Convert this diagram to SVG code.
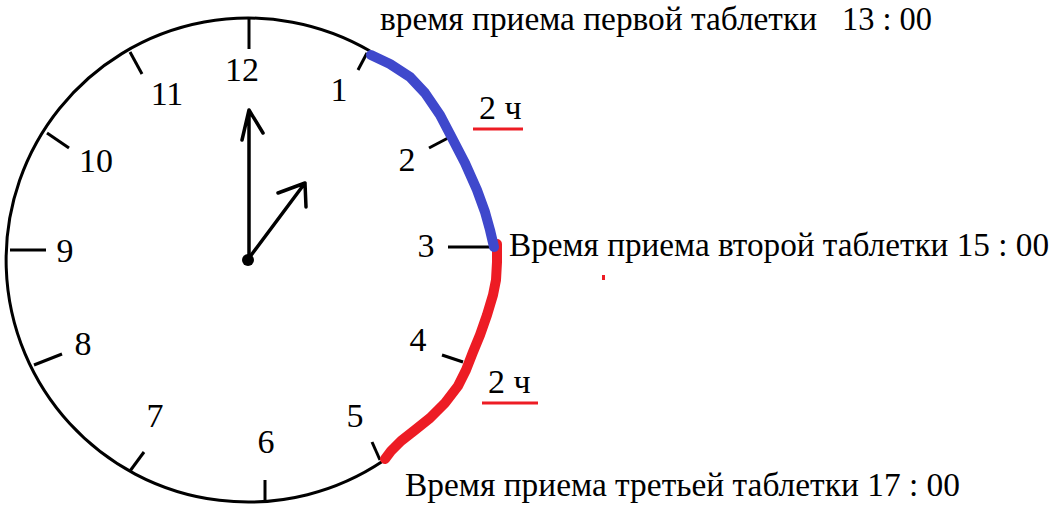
<svg xmlns="http://www.w3.org/2000/svg" width="1061" height="509" viewBox="0 0 1061 509">
<style>
.t{font-family:"Liberation Serif","Times New Roman",serif;font-size:34px;fill:#000}
.n{font-family:"Liberation Serif","Times New Roman",serif;font-size:34px;fill:#000;text-anchor:middle}
.tick{stroke:#000;stroke-width:3;stroke-linecap:butt;fill:none}
.hand{stroke:#000;stroke-width:3.5;stroke-linecap:round;stroke-linejoin:round;fill:none}
.blue{stroke:#3F48CC;stroke-width:10;stroke-linecap:round;stroke-linejoin:round;fill:none}
.red{stroke:#ED1C24;stroke-width:10;stroke-linecap:round;stroke-linejoin:round;fill:none}
.ul{stroke:#ED1C24;stroke-width:3;fill:none}
</style>
<rect width="1061" height="509" fill="#fff"/>
<g id="clock">
  <path id="dial" d="M 370 51 A 242 242 0 1 0 383 461" fill="none" stroke="#000" stroke-width="3"/>
  <g id="ticks">
    <line class="tick" x1="249" y1="17" x2="249" y2="49"/>
    <line class="tick" x1="367" y1="53" x2="358" y2="70"/>
    <line class="tick" x1="448" y1="138" x2="429" y2="148"/>
    <line class="tick" x1="490" y1="247" x2="448" y2="247"/>
    <line class="tick" x1="463" y1="362" x2="442" y2="355"/>
    <line class="tick" x1="380" y1="460" x2="372" y2="442"/>
    <line class="tick" x1="265" y1="503" x2="265" y2="480"/>
    <line class="tick" x1="130" y1="471" x2="144" y2="452"/>
    <line class="tick" x1="34" y1="365" x2="62" y2="354"/>
    <line class="tick" x1="10" y1="250" x2="46" y2="250"/>
    <line class="tick" x1="47" y1="133" x2="69" y2="148"/>
    <line class="tick" x1="130" y1="52" x2="142" y2="74"/>
  </g>
  <g id="numbers">
    <text class="n" x="242" y="81">12</text>
    <text class="n" x="339" y="101">1</text>
    <text class="n" x="407" y="171">2</text>
    <text class="n" x="426" y="257">3</text>
    <text class="n" x="418" y="351">4</text>
    <text class="n" x="355" y="427">5</text>
    <text class="n" x="266" y="453">6</text>
    <text class="n" x="155" y="427">7</text>
    <text class="n" x="83" y="355">8</text>
    <text class="n" x="65" y="262">9</text>
    <text class="n" x="96" y="172">10</text>
    <text class="n" x="167" y="105">11</text>
  </g>
  <g id="hands">
    <path class="hand" d="M249 258 L249 110 M242 140 L249 110 L263 133"/>
    <path class="hand" d="M249 258 L305 183 M278 193 L305 183 L306 207"/>
    <circle cx="248" cy="260" r="6" fill="#000"/>
  </g>
</g>
<g id="arcs">
  <polyline id="red-arc" class="red" points="497,244 497,262 496,280 493,295 487,315 480,335 473,352 466,370 458,386 445,403 430,418 415,430 401,441 391,451 385,459"/>
  <polyline id="blue-arc" class="blue" points="371,55 390,64 410,77 425,93 440,115 451,136 465,163 477,190 485,212 490,230 494,247"/>
</g>
<g id="label-first">
  <text class="t" x="380" y="30" textLength="437" lengthAdjust="spacingAndGlyphs">время приема первой таблетки</text>
  <text class="t" x="842" y="30" textLength="90" lengthAdjust="spacingAndGlyphs">13 : 00</text>
</g>
<g id="label-second">
  <text class="t" x="509" y="256" textLength="540" lengthAdjust="spacingAndGlyphs">Время приема второй таблетки 15 : 00</text>
</g>
<g id="label-third">
  <text class="t" x="405" y="496" textLength="555" lengthAdjust="spacingAndGlyphs">Время приема третьей таблетки 17 : 00</text>
</g>
<g id="duration-1">
  <text class="t" x="479" y="119">2 ч</text>
  <line class="ul" x1="473" y1="129" x2="523" y2="129"/>
</g>
<g id="duration-2">
  <text class="t" x="488" y="393">2 ч</text>
  <line class="ul" x1="482" y1="403" x2="538" y2="403"/>
</g>
<rect id="red-dot" x="602" y="275" width="3" height="5" fill="#ED1C24"/>
</svg>
